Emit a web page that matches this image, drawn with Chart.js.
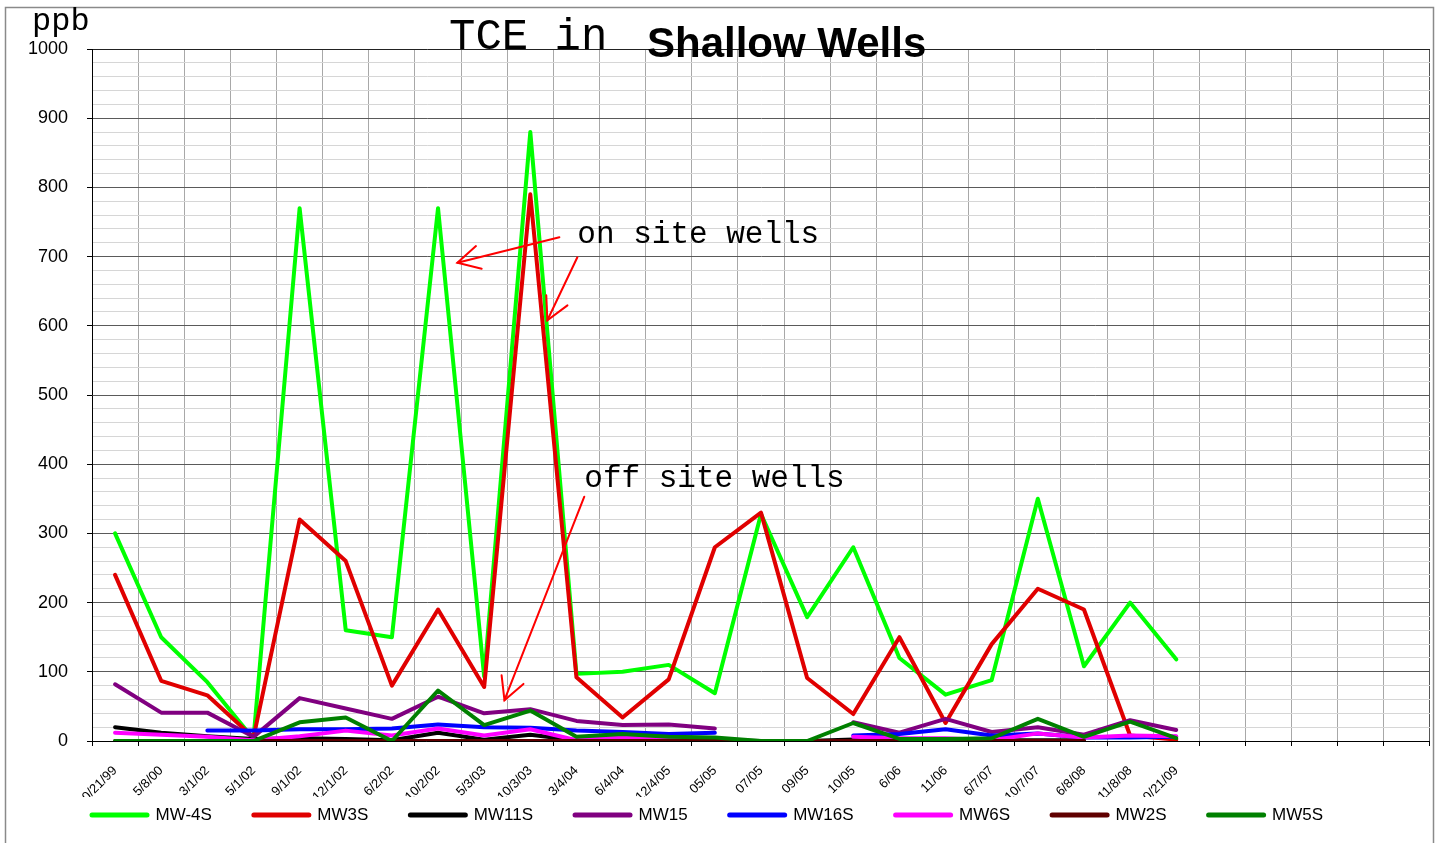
<!DOCTYPE html>
<html>
<head>
<meta charset="utf-8">
<script src="https://cdn.jsdelivr.net/npm/chart.js@4.4.1/dist/chart.umd.min.js"></script>
<style>
  html, body { margin: 0; padding: 0; background: #ffffff; }
  #wrap { position: relative; width: 1435px; height: 843px; }
</style>
</head>
<body>
<div id="wrap"><canvas id="c"></canvas></div>
<script>
// ---- data ----
const categories = ['10/21/99','5/8/00','3/1/02','5/1/02','9/1/02','12/1/02','6/2/02','10/2/02','5/3/03','10/3/03','3/4/04','6/4/04','12/4/05','05/05','07/05','09/05','10/05','6/06','11/06','6/7/07','10/7/07','6/8/08','11/8/08','10/21/09','','','','',''];
const seriesNames = ['MW-4S','MW3S','MW11S','MW15','MW16S','MW6S','MW2S','MW5S'];
const mw4s  = [300,150,85,3,770,160,150,770,93,880,97,100,110,69,328,179,280,120,67,88,350,108,200,118];
const mw3s  = [240,87,66,5,320,260,80,190,78,790,92,34,89,280,330,91,39,150,26,140,220,190,8,2];
const mw11s = [20,12,7,3,4,3,1,12,2,9,1,1,2,1,0,0,2,1,1,1,1,1];
const mw15  = [82,41,41,6,62,47,32,64,40,46,29,23,24,18,null,null,27,12,32,13,20,9,30,16];
const mw16s = [null,null,15,15,17,17,18,24,20,19,15,13,10,12,null,null,8,10,17,8,11,5,5,6];
const mw6s  = [12,9,6,1,7,15,8,18,8,17,1,6,4,3,null,null,6,4,4,1,11,5,8,7];
const mw2s  = [0,0,0,0,0,0,0,0,0,0,0,0,0,0,0,0,0,0,0,0,0,0];
const mw5s  = [0,0,0,0,27,34,0,73,23,44,6,10,6,5,0,0,26,3,3,4,32,6,28,4];
const yMin = 0, yMax = 1000, yMinorStep = 20, yMajorStep = 100;
const titleLeft = 'TCE in', titleRight = 'Shallow Wells', unitLabel = 'ppb';
// annotations: [category index, value]
const notes = [
  { text: 'on site wells', at: [10.02, 720] },
  { text: 'off site wells', at: [10.17, 367] }
];
const arrows = [
  { from: [9.63, 728], to: [7.42, 691] },
  { from: [10.02, 699], to: [9.37, 608] },
  { from: [10.17, 353], to: [8.44, 59] }
];

const seriesValues = [mw4s, mw3s, mw11s, mw15, mw16s, mw6s, mw2s, mw5s];
const seriesColors = ['#00FF00','#E00000','#000000','#800080','#0000FF','#FF00FF','#600000','#008000'];
const LABEL_CLIP_Y = 797;

const datasets = seriesNames.map((name, i) => ({
  label: name,
  data: seriesValues[i],
  borderColor: seriesColors[i],
  backgroundColor: seriesColors[i],
  borderWidth: 4,
  pointRadius: 0,
  pointHoverRadius: 0,
  tension: 0,
  fill: false,
  spanGaps: false,
  borderJoinStyle: 'round',
  borderCapStyle: 'round',
  order: seriesNames.length - 1 - i
}));

const framePlugin = {
  id: 'frame',
  afterLayout(chart) {
    const xs = chart.scales.x, ys = chart.scales.y;
    xs._computeLabelArea = function () {
      return { top: this.top, left: 0, bottom: LABEL_CLIP_Y, right: this.chart.width };
    };
    ys._computeLabelArea = function () {
      return { top: 0, left: 0, bottom: this.chart.height, right: this.right };
    };
  },
  beforeDraw(chart) {
    const ctx = chart.ctx;
    ctx.save();
    ctx.fillStyle = '#ffffff';
    ctx.fillRect(0, 0, chart.width, chart.height);
    ctx.restore();
  },
  afterDatasetsDraw(chart) {
    const ctx = chart.ctx;
    const xs = chart.scales.x, ys = chart.scales.y;
    const P = (p) => [xs.getPixelForValue(p[0]), ys.getPixelForValue(p[1])];
    ctx.save();
    ctx.strokeStyle = '#FF0000';
    ctx.lineWidth = 2;
    ctx.lineCap = 'round';
    arrows.forEach(a => {
      const [x1, y1] = P(a.from), [x2, y2] = P(a.to);
      ctx.beginPath(); ctx.moveTo(x1, y1); ctx.lineTo(x2, y2); ctx.stroke();
      const ang = Math.atan2(y1 - y2, x1 - x2);
      const hl = 25, ha = 28 * Math.PI / 180;
      ctx.beginPath();
      ctx.moveTo(x2 + hl * Math.cos(ang - ha), y2 + hl * Math.sin(ang - ha));
      ctx.lineTo(x2, y2);
      ctx.lineTo(x2 + hl * Math.cos(ang + ha), y2 + hl * Math.sin(ang + ha));
      ctx.stroke();
    });
    ctx.fillStyle = '#000000';
    ctx.font = '31px "Liberation Mono", "Courier New", monospace';
    ctx.textBaseline = 'alphabetic';
    ctx.textAlign = 'left';
    notes.forEach(n => {
      const [x, y] = P(n.at);
      ctx.fillText(n.text, x, y);
    });
    ctx.restore();
  },
  afterDraw(chart) {
    const ctx = chart.ctx;
    ctx.save();
    ctx.fillStyle = '#ffffff';
    ctx.fillRect(6, LABEL_CLIP_Y, chart.width - 8, chart.height - LABEL_CLIP_Y);
    ctx.restore();
    chart.legend.draw();
    ctx.save();
    ctx.strokeStyle = '#8a8a8a';
    ctx.lineWidth = 1.5;
    ctx.strokeRect(5.5, 7.5, 1428, 900);
    ctx.fillStyle = '#000000';
    ctx.textBaseline = 'alphabetic';
    ctx.textAlign = 'left';
    ctx.font = '32px "Liberation Mono", "Courier New", monospace';
    ctx.fillText(unitLabel, 32, 30);
    ctx.font = '44px "Liberation Mono", "Courier New", monospace';
    ctx.fillText(titleLeft, 449, 49);
    ctx.font = 'bold 42px "Liberation Sans", Arial, sans-serif';
    ctx.fillText(titleRight, 647, 57);
    ctx.restore();
  }
};

new Chart(document.getElementById('c'), {
  type: 'line',
  data: { labels: categories, datasets },
  plugins: [framePlugin],
  options: {
    responsive: true,
    maintainAspectRatio: false,
    animation: false,
    events: [],
    layout: { padding: { top: 49, left: 50, right: 3.2, bottom: 9.5 } },
    plugins: {
      title: { display: false },
      tooltip: { enabled: false },
      legend: {
        display: true,
        position: 'bottom',
        align: 'start',
        labels: {
          font: { family: '"Liberation Sans", Arial, sans-serif', size: 17 },
          color: '#000000',
          usePointStyle: true,
          pointStyle: 'line',
          pointStyleWidth: 55,
          padding: 42,
          sort: (a, b) => a.datasetIndex - b.datasetIndex,
          generateLabels: (chart) => Chart.defaults.plugins.legend.labels.generateLabels(chart).map(l => Object.assign(l, { lineWidth: 5, lineCap: 'round' }))
        }
      }
    },
    scales: {
      x: {
        type: 'category',
        offset: true,
        afterFit: (s) => { s.height = 23.5; },
        grid: {
          offset: true,
          color: (c) => c.tick ? '#a8a8a8' : '#555555',
          lineWidth: 1,
          tickLength: 5,
          tickColor: '#000000',
          drawTicks: true
        },
        border: { display: true, color: '#000000', width: 1 },
        ticks: {
          autoSkip: false,
          maxRotation: 45,
          minRotation: 45,
          padding: 17,
          color: '#000000',
          font: { family: '"Liberation Sans", Arial, sans-serif', size: 13 }
        }
      },
      y: {
        min: yMin,
        max: yMax,
        afterFit: (s) => { s.width = 42; },
        grid: {
          color: (c) => {
            const v = c.tick ? c.tick.value : 0;
            if (v === yMax) return '#222222';
            return v % yMajorStep === 0 ? '#5a5a5a' : '#d6d6d6';
          },
          lineWidth: 1,
          tickLength: 5,
          tickColor: (c) => (c.tick && c.tick.value % yMajorStep === 0) ? '#000000' : 'rgba(0,0,0,0)'
        },
        border: { display: true, color: '#000000', width: 1 },
        ticks: {
          stepSize: yMinorStep,
          maxTicksLimit: 100,
          autoSkip: false,
          padding: 19,
          color: '#000000',
          font: { family: '"Liberation Sans", Arial, sans-serif', size: 18 },
          callback: (v) => (v % yMajorStep === 0 ? String(v) : '')
        }
      }
    }
  }
});
</script>
</body>
</html>
